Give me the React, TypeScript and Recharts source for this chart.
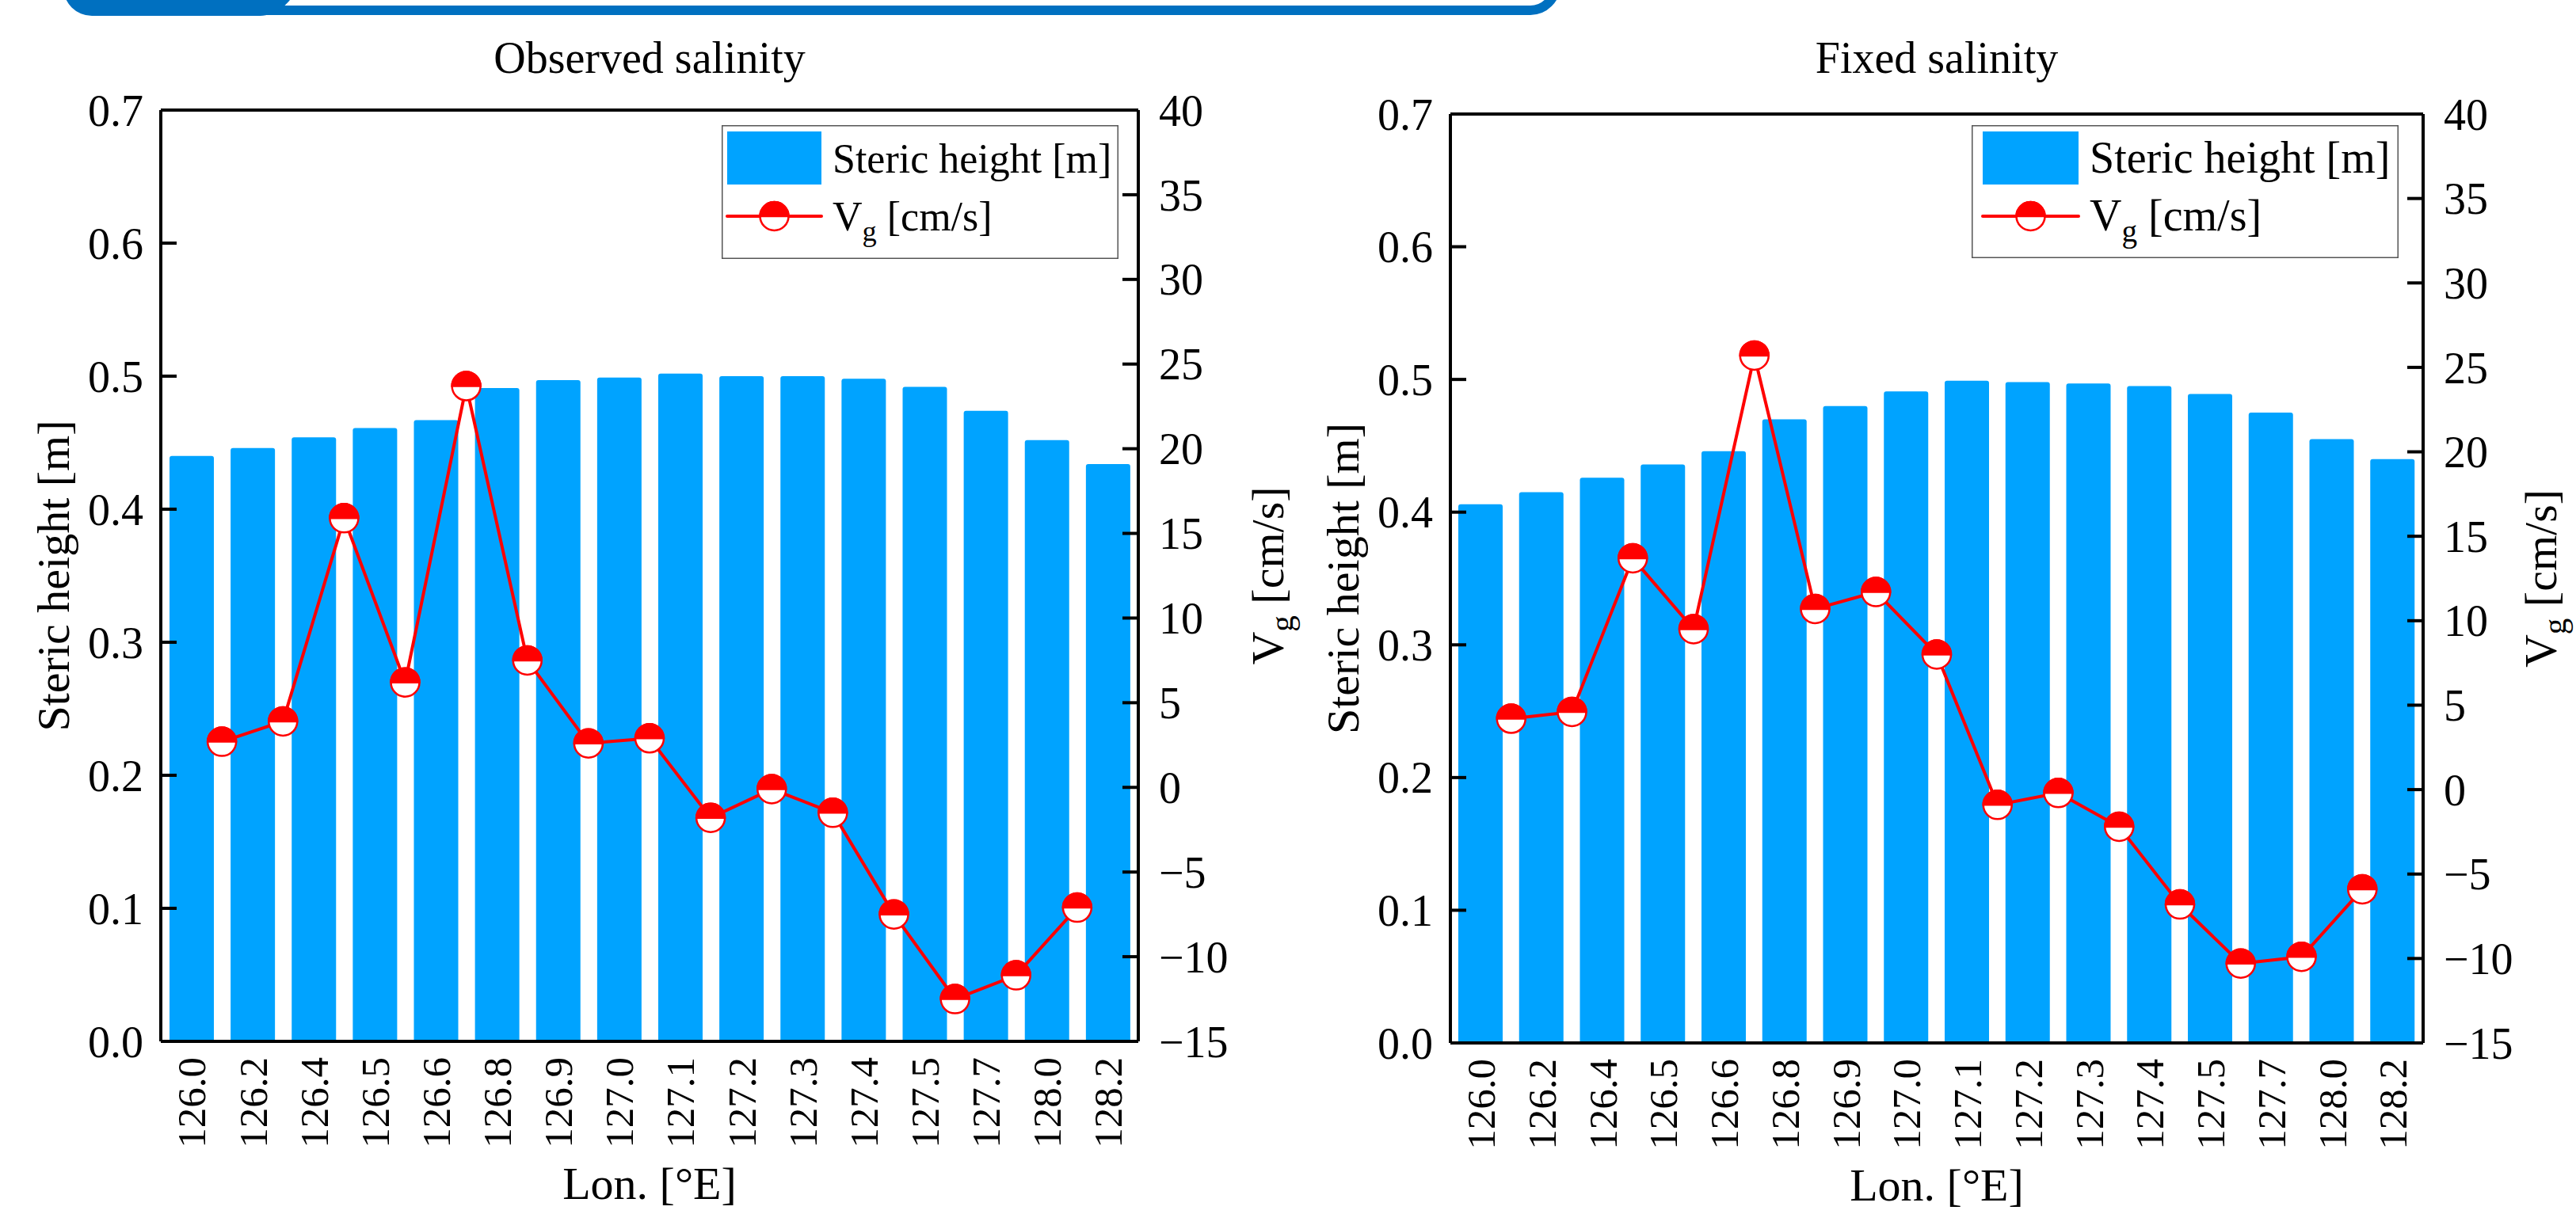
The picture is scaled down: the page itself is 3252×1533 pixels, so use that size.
import { ComposedChart, Bar, Line, XAxis, YAxis, ReferenceLine, Legend, Label } from 'recharts'

const FONT = '"Liberation Serif", "Times New Roman", serif'
const BLUE = '#00A3FF'
const RED = '#FF0000'

// longitude categories (one bar each)
const lons = ['126.0', '126.2', '126.4', '126.5', '126.6', '126.8', '126.9', '127.0',
  '127.1', '127.2', '127.3', '127.4', '127.5', '127.7', '128.0', '128.2']

// observed salinity
const stericObs = [0.440, 0.446, 0.454, 0.461, 0.467, 0.491, 0.497, 0.499,
  0.502, 0.500, 0.500, 0.498, 0.492, 0.474, 0.452, 0.434]
const vgObs = [2.7, 3.9, 15.9, 6.2, 23.7, 7.5, 2.6, 2.9, -1.8, -0.1, -1.5, -7.5, -12.5, -11.1, -7.1]

// fixed salinity
const stericFix = [0.406, 0.415, 0.426, 0.436, 0.446, 0.470, 0.480, 0.491,
  0.499, 0.498, 0.497, 0.495, 0.489, 0.475, 0.455, 0.440]
const vgFix = [4.2, 4.6, 13.7, 9.5, 25.7, 10.7, 11.7, 8.0, -0.9, -0.2, -2.2, -6.8, -10.3, -9.9, -5.9]

const leftTicks = [0, 0.1, 0.2, 0.3, 0.4, 0.5, 0.6, 0.7]
const rightTicks = [-15, -10, -5, 0, 5, 10, 15, 20, 25, 30, 35, 40]

const LeftTick = (props: any) => {
  const { x, y, payload } = props
  return (
    <g>
      <line x1={x} x2={x + 20} y1={y} y2={y} stroke="#000" strokeWidth={4} />
      <text x={x - 22} y={y} dy="0.35em" textAnchor="end" fontSize={56} fontFamily={FONT} fill="#000">
        {Number(payload.value).toFixed(1)}
      </text>
    </g>
  )
}

const RightTick = (props: any) => {
  const { x, y, payload } = props
  const v = Number(payload.value)
  return (
    <g>
      <line x1={x - 20} x2={x} y1={y} y2={y} stroke="#000" strokeWidth={4} />
      <text x={x + 26} y={y} dy="0.35em" textAnchor="start" fontSize={56} fontFamily={FONT} fill="#000">
        {v < 0 ? '\u2212' + Math.abs(v) : String(v)}
      </text>
    </g>
  )
}

const LonTick = (props: any) => {
  const { x, y, payload } = props
  return (
    <text transform={`translate(${x},${y}) rotate(-90)`} dy="0.35em" textAnchor="end"
      fontSize={51} fontFamily={FONT} fill="#000">
      {lons[payload.value]}
    </text>
  )
}

const HalfDot = (props: any) => {
  const { cx, cy, index } = props
  if (cx == null || cy == null) return <g key={`d${index}`} />
  const r = 18
  return (
    <g key={`d${index}`}>
      <circle cx={cx} cy={cy} r={r} fill="#fff" stroke={RED} strokeWidth={2.5} />
      <path d={`M${cx - r},${cy} A${r},${r} 0 0 1 ${cx + r},${cy} Z`} fill={RED} stroke={RED} strokeWidth={2.5} />
    </g>
  )
}

type LegendCfg = { x: number; y: number; w: number; h: number; fs: number; sx: number; sw: number; tx: number }

function LegendBox({ cfg }: { cfg: LegendCfg }) {
  const { w, h, fs, sx, sw, tx } = cfg
  const mid = sx + sw / 2
  return (
    <svg width={w} height={h} style={{ display: 'block' }}>
      <rect x={0.75} y={0.75} width={w - 1.5} height={h - 1.5} fill="#fff" stroke="#555" strokeWidth={1.5} />
      <rect x={sx} y={8} width={sw} height={67} fill={BLUE} />
      <text x={tx} y={60} fontSize={fs} fontFamily={FONT} fill="#000">Steric height [m]</text>
      <line x1={sx} x2={sx + sw} y1={115} y2={115} stroke={RED} strokeWidth={4} strokeLinecap="round" />
      <HalfDot cx={mid} cy={115} index={0} />
      <text x={tx} y={133} fontSize={fs} fontFamily={FONT} fill="#000">
        V<tspan dy={fs * 0.25} fontSize={fs * 0.7}>g</tspan><tspan dy={-fs * 0.25}> [cm/s]</tspan>
      </text>
    </svg>
  )
}

type PanelProps = {
  steric: number[]
  vg: number[]
  left: number
  width: number
  plotLeft: number
  plotRight: number
  plotTop: number
  plotBottom: number
  rightTitleOffset: number
  legend: LegendCfg
}

function Panel({ steric, vg, left, width, plotLeft, plotRight, plotTop, plotBottom, rightTitleOffset, legend }: PanelProps) {
  const rows = lons.map((lon, i) => ({
    i,
    lon,
    lx: i + 0.5,
    sh: steric[i],
    vg: i < vg.length ? vg[i] : null,
  }))
  const LW = 150
  const RW = 180
  const XH = 200
  const margin = {
    top: plotTop,
    bottom: 1533 - plotBottom - XH,
    left: plotLeft - left - LW,
    right: left + width - plotRight - RW,
  }
  return (
    <div style={{ position: 'absolute', left, top: 0 }}>
      <ComposedChart width={width} height={1533} data={rows} margin={margin}>
        <XAxis xAxisId="bars" type="number" dataKey="i" domain={[-0.5, 15.5]} ticks={rows.map((r) => r.i)}
          interval={0} allowDataOverflow tick={<LonTick />} tickLine={false} tickSize={0} tickMargin={20}
          height={XH} axisLine={{ stroke: '#000', strokeWidth: 4 }}>
          <Label content={(p: any) => {
            const vb = p.viewBox
            return (
              <text x={vb.x + vb.width / 2} y={vb.y + 199} textAnchor="middle" fontSize={58} fontFamily={FONT} fill="#000">
                Lon. [°E]
              </text>
            )
          }} />
        </XAxis>
        <XAxis xAxisId="line" type="number" dataKey="lx" domain={[-0.5, 15.5]} allowDataOverflow hide />
        <YAxis yAxisId="left" orientation="left" domain={[0, 0.7]} ticks={leftTicks} interval={0}
          allowDataOverflow width={LW} tick={<LeftTick />} tickLine={false} tickSize={0} tickMargin={0}
          axisLine={{ stroke: '#000', strokeWidth: 4 }}>
          <Label content={(p: any) => {
            const vb = p.viewBox
            const cx = vb.x + vb.width - 116
            const cy = vb.y + vb.height / 2
            return (
              <text x={cx} y={cy} transform={`rotate(-90, ${cx}, ${cy})`} textAnchor="middle" fontSize={58}
                fontFamily={FONT} fill="#000">
                Steric height [m]
              </text>
            )
          }} />
        </YAxis>
        <YAxis yAxisId="right" orientation="right" domain={[-15, 40]} ticks={rightTicks} interval={0}
          allowDataOverflow width={RW} tick={<RightTick />} tickLine={false} tickSize={0} tickMargin={0}
          axisLine={{ stroke: '#000', strokeWidth: 4 }}>
          <Label content={(p: any) => {
            const vb = p.viewBox
            const cx = vb.x + rightTitleOffset
            const cy = vb.y + vb.height / 2
            return (
              <text x={cx} y={cy} transform={`rotate(-90, ${cx}, ${cy})`} textAnchor="middle" fontSize={58}
                fontFamily={FONT} fill="#000">
                V<tspan dy={12} fontSize={41}>g</tspan><tspan dy={-12}> [cm/s]</tspan>
              </text>
            )
          }} />
        </YAxis>
        <Bar xAxisId="bars" yAxisId="left" dataKey="sh" name="Steric height [m]" fill={BLUE} barSize={56}
          radius={[3, 3, 0, 0]} isAnimationActive={false} />
        <Line xAxisId="line" yAxisId="right" dataKey="vg" name="Vg [cm/s]" type="linear" stroke={RED}
          strokeWidth={4} dot={HalfDot} activeDot={false} isAnimationActive={false} />
        <ReferenceLine xAxisId="bars" yAxisId="left" y={0.7} stroke="#000" strokeWidth={4} />
        <Legend layout="horizontal" verticalAlign="middle" align="center"
          wrapperStyle={{ left: legend.x, top: legend.y, width: legend.w, height: legend.h }}
          content={() => <LegendBox cfg={legend} />} />
      </ComposedChart>
    </div>
  )
}

export default function App() {
  return (
    <div style={{ position: 'absolute', left: 0, top: 0, width: 3252, height: 1533, background: '#fff', overflow: 'hidden' }}>
      <svg width={3252} height={1533} style={{ position: 'absolute', left: 0, top: 0 }}>
        <rect x={86} y={-60} width={1878} height={73} rx={32} fill="none" stroke="#0070C0" strokeWidth={12} />
        <path d="M 80 -10 L 366 -10 L 366 0 C 356 12, 345 20, 325 20 L 116 20 A 36 36 0 0 1 80 -16 Z" fill="#0070C0" />
        <text x={820} y={92} textAnchor="middle" fontSize={56} fontFamily={FONT} fill="#000">Observed salinity</text>
        <text x={2445} y={92} textAnchor="middle" fontSize={56} fontFamily={FONT} fill="#000">Fixed salinity</text>
      </svg>
      <Panel steric={stericObs} vg={vgObs} left={0} width={1650}
        plotLeft={203} plotRight={1437} plotTop={139} plotBottom={1315} rightTitleOffset={183}
        legend={{ x: 911, y: 158, w: 501, h: 169, fs: 52, sx: 7, sw: 119, tx: 140 }} />
      <Panel steric={stericFix} vg={vgFix} left={1650} width={1602}
        plotLeft={1831} plotRight={3059} plotTop={144} plotBottom={1317} rightTitleOffset={168}
        legend={{ x: 839, y: 158, w: 539, h: 168, fs: 56, sx: 14, sw: 121, tx: 149 }} />
    </div>
  )
}
